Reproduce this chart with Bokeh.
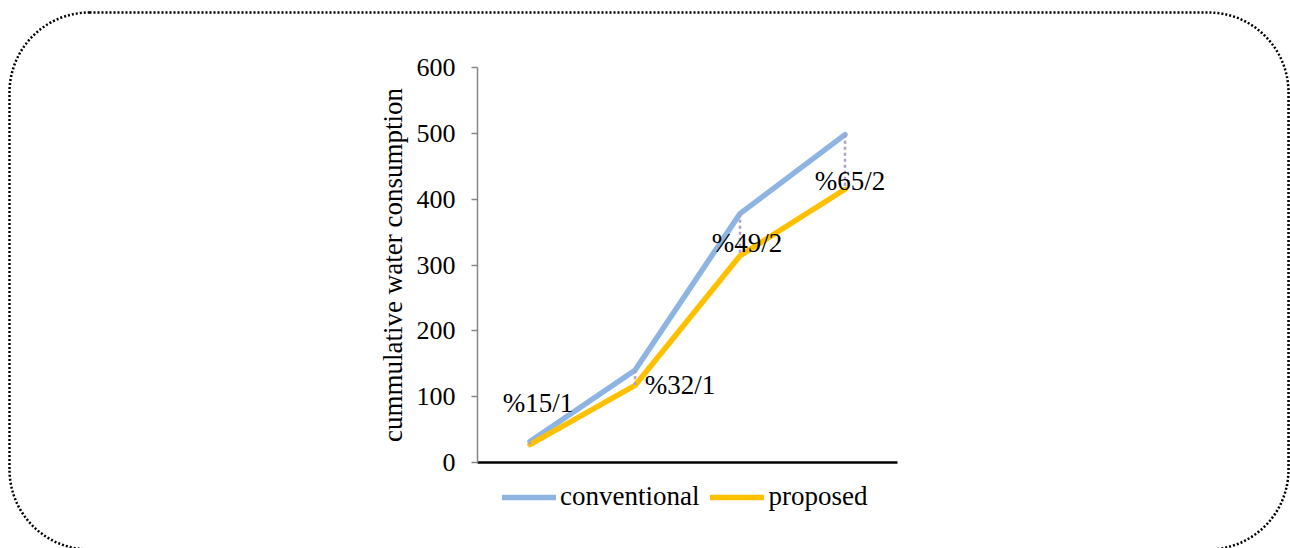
from bokeh.plotting import figure
from bokeh.models import (Range1d, FixedTicker, Legend, LegendItem, BoxAnnotation,
                          ColumnDataSource, LinearAxis)
from bokeh.core.properties import value
from bokeh.embed import file_html
from bokeh.resources import INLINE

# ---- data ----
categories = [0, 1, 2, 3]
conventional = [32, 140, 378, 498]
proposed = [27, 117, 314, 415]
labels = ["%15/1", "%32/1", "%49/2", "%65/2"]
label_y = [91, 117, 333, 427]
label_dx = [8, 45, 7, 5]
y_ticks = [0, 100, 200, 300, 400, 500, 600]
y_min, y_max = 0, 600

FONT = "Liberation Serif"
BLUE = "#8EB4E3"
GOLD = "#FFC000"

# ---- layout (pixels) ----
W, H = 1290, 548
PL, PR, PT, PB = 477, 897, 67, 462          # plot area in canvas pixels
xs = (PR - PL) / 4.0                         # px per category
ys = (PB - PT) / float(y_max - y_min)        # px per unit

x_range = Range1d(-0.5 - PL / xs, 3.5 + (W - PR) / xs)
y_range = Range1d(y_min - (H - PB) / ys, y_max + PT / ys)

p = figure(width=W, height=H, output_backend="svg", toolbar_location=None,
           x_range=x_range, y_range=y_range, min_border=0,
           x_axis_location=None, y_axis_location=None)
p.outline_line_color = None
p.xgrid.visible = False
p.ygrid.visible = False
p.background_fill_color = "white"
p.border_fill_color = "white"
p.extra_x_ranges = {"px": Range1d(0, W)}
p.extra_y_ranges = {"px": Range1d(H, 0)}

# y axis
ya = LinearAxis(fixed_location=-0.5, bounds=(y_min, y_max))
ya.ticker = FixedTicker(ticks=y_ticks)
ya.axis_line_color = "#868686"
ya.axis_line_width = 1.5
ya.major_tick_line_color = "#868686"
ya.major_tick_line_width = 1.5
ya.major_tick_out = 6
ya.major_tick_in = 0
ya.minor_tick_line_color = None
ya.major_label_text_font = FONT
ya.major_label_text_font_size = "26px"
ya.major_label_text_color = "black"
ya.major_label_standoff = 16
ya.axis_label = "cummulative water consumption"
ya.axis_label_text_font = FONT
ya.axis_label_text_font_size = "27px"
ya.axis_label_text_font_style = "normal"
ya.axis_label_text_color = "black"
ya.axis_label_standoff = 6
p.add_layout(ya, "left")

# x axis
xa = LinearAxis(fixed_location=y_min, bounds=(-0.5, 3.5))
xa.ticker = FixedTicker(ticks=[])
xa.axis_line_color = "black"
xa.axis_line_width = 2.5
xa.major_tick_line_color = None
xa.minor_tick_line_color = None
xa.major_label_text_font_size = "0px"
p.add_layout(xa, "below")

src = ColumnDataSource(dict(x=categories, conv=conventional, prop=proposed,
                            lab=labels, ly=label_y, dx=label_dx))

r_conv = p.line("x", "conv", source=src, line_color=BLUE, line_width=5.5,
                line_cap="round", line_join="round")
r_prop = p.line("x", "prop", source=src, line_color=GOLD, line_width=5.5,
                line_cap="round", line_join="round")
p.segment(x0="x", y0="conv", x1="x", y1="prop", source=src,
          line_color="#AE9FC9", line_width=2.5, line_dash="3 3")

p.text(x="x", y="ly", text="lab", x_offset="dx", source=src,
       text_font=value(FONT), text_font_size="27px", text_color="black",
       text_align="center", text_baseline="middle")

legend = Legend(items=[LegendItem(label="conventional", renderers=[r_conv]),
                       LegendItem(label="proposed", renderers=[r_prop])],
                orientation="horizontal", location=(502, 36))
legend.label_text_font = FONT
legend.label_text_font_size = "27px"
legend.label_text_color = "black"
legend.glyph_width = 54
legend.glyph_height = 26
legend.label_height = 26
legend.label_standoff = 4
legend.spacing = 11
legend.padding = 0
legend.margin = 0
legend.border_line_color = None
legend.background_fill_alpha = 0
p.add_layout(legend)

# rounded dotted outline around the whole chart
frame_box = BoxAnnotation(left=9, right=1288, top=12, bottom=549,
                          x_range_name="px", y_range_name="px",
                          fill_alpha=0, line_color="black", line_alpha=1.0,
                          line_width=2.5, line_dash="2 2", border_radius=80)
p.add_layout(frame_box)

open("out.html", "w").write(file_html(p, INLINE))
